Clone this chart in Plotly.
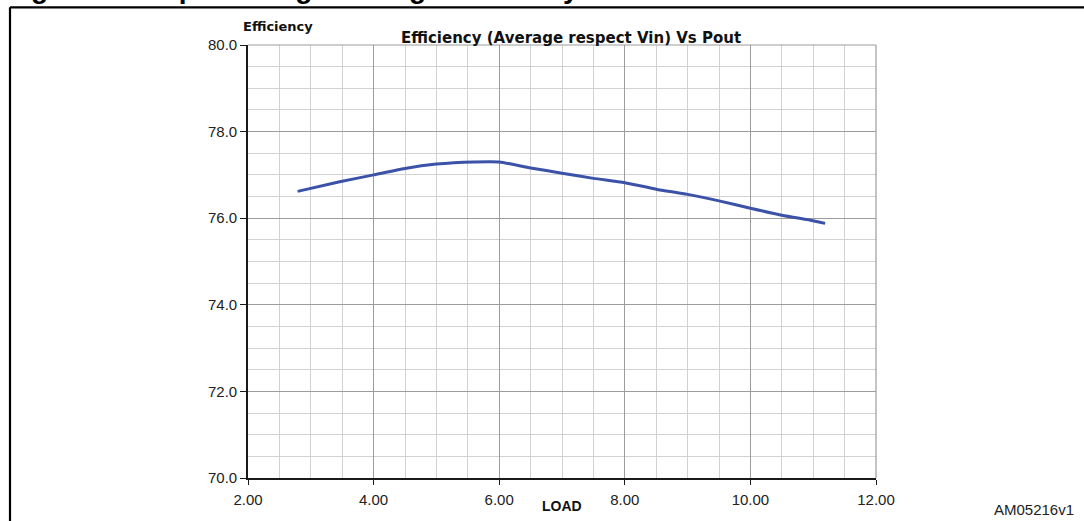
import plotly.graph_objects as go

# ---- data ----
load = [2.79, 3.46, 4.0, 4.5, 5.0, 5.6, 6.0, 6.5, 7.0, 7.5, 8.0, 8.5, 9.0, 9.5, 10.0, 10.5, 11.0, 11.19]
efficiency = [76.62, 76.84, 77.0, 77.15, 77.25, 77.30, 77.30, 77.16, 77.04, 76.92, 76.82, 76.67,
              76.55, 76.40, 76.23, 76.07, 75.94, 75.88]

x_ticks = [2, 4, 6, 8, 10, 12]
x_tick_labels = ["2.00", "4.00", "6.00", "8.00", "10.00", "12.00"]
y_ticks = [70, 72, 74, 76, 78, 80]
y_tick_labels = ["70.0", "72.0", "74.0", "76.0", "78.0", "80.0"]

chart_title = "Efficiency (Average respect Vin) Vs Pout"
y_title = "Efficiency"
x_title = "LOAD"
caption = "Figure 10.\u00a0\u00a0Input voltage average efficiency"
code_label = "AM05216v1"

# ---- layout geometry (pixels) ----
W, H = 1084, 521
L, R, T, B = 248, 876, 45, 478


def px(xp):
    return (xp - L) / (R - L)


def py(yp):
    return (B - yp) / (B - T)


fig = go.Figure()
fig.add_trace(go.Scatter(
    x=load, y=efficiency, mode="lines",
    line=dict(color="#3b52a8", width=3, shape="spline", smoothing=0.6),
    showlegend=False, hoverinfo="skip",
))

tick_font = dict(family="Liberation Sans", size=15, color="#222222")

fig.update_xaxes(
    range=[2, 12], tickmode="array", tickvals=x_ticks, ticktext=x_tick_labels,
    showgrid=True, gridcolor="#9c9c9c", gridwidth=1,
    minor=dict(dtick=0.5, showgrid=True, gridcolor="#d2d2d2", gridwidth=1, ticks=""),
    showline=True, linecolor="#1a1a1a", linewidth=1.6,
    ticks="outside", ticklen=5, tickcolor="#1a1a1a", tickwidth=1.2,
    ticklabelstandoff=2,
    tickfont=tick_font, zeroline=False, fixedrange=True,
)
fig.update_yaxes(
    range=[70, 80], tickmode="array", tickvals=y_ticks, ticktext=y_tick_labels,
    showgrid=True, gridcolor="#9c9c9c", gridwidth=1,
    minor=dict(dtick=0.5, showgrid=True, gridcolor="#d2d2d2", gridwidth=1, ticks=""),
    showline=True, linecolor="#1a1a1a", linewidth=1.6,
    ticks="outside", ticklen=6, tickcolor="#1a1a1a", tickwidth=1.2,
    tickfont=tick_font, zeroline=False, fixedrange=True,
)

shapes = [
    # gray top and right border of the plot area
    dict(type="line", xref="paper", yref="paper", x0=0, x1=1, y0=1, y1=1,
         line=dict(color="#9c9c9c", width=1.2), layer="above"),
    dict(type="line", xref="paper", yref="paper", x0=1, x1=1, y0=0, y1=1,
         line=dict(color="#9c9c9c", width=1.2), layer="above"),
    # outer figure frame (top and left)
    dict(type="line", xref="paper", yref="paper", x0=px(10), x1=px(W + 10), y0=py(7.3), y1=py(7.3),
         line=dict(color="black", width=2.2), layer="above"),
    dict(type="line", xref="paper", yref="paper", x0=px(10), x1=px(10), y0=py(7.3), y1=py(H + 10),
         line=dict(color="black", width=2.2), layer="above"),
]

annotations = [
    dict(text=chart_title, xref="paper", yref="paper", x=px(571), y=py(38),
         xanchor="center", yanchor="middle", showarrow=False,
         font=dict(family="DejaVu Sans", size=15, color="#111111", weight="bold")),
    dict(text=y_title, xref="paper", yref="paper", x=px(241), y=py(26),
         xanchor="left", yanchor="middle", showarrow=False,
         font=dict(family="DejaVu Sans", size=13, color="#111111", weight="bold")),
    dict(text=x_title, xref="paper", yref="paper", x=px(562), y=py(506),
         xanchor="center", yanchor="middle", showarrow=False,
         font=dict(family="Liberation Sans", size=14, color="#111111", weight="bold")),
    dict(text=code_label, xref="paper", yref="paper", x=px(1076), y=py(509),
         xanchor="right", yanchor="middle", showarrow=False,
         font=dict(family="Liberation Sans", size=15, color="#222222")),
    dict(text=caption, xref="paper", yref="paper", x=px(4), y=py(6.5),
         xanchor="left", yanchor="bottom", showarrow=False,
         font=dict(family="Liberation Sans", size=28, color="black", weight="bold")),
]

fig.update_layout(
    width=W, height=H,
    margin=dict(l=L, r=W - R, t=T, b=H - B, pad=0),
    paper_bgcolor="white", plot_bgcolor="white",
    shapes=shapes, annotations=annotations,
    showlegend=False,
)

fig.write_html(
    "out.html",
    config={"displayModeBar": False},
    post_script="document.body.style.margin='0';document.body.style.padding='0';"
                "document.body.style.overflow='hidden';",
)
